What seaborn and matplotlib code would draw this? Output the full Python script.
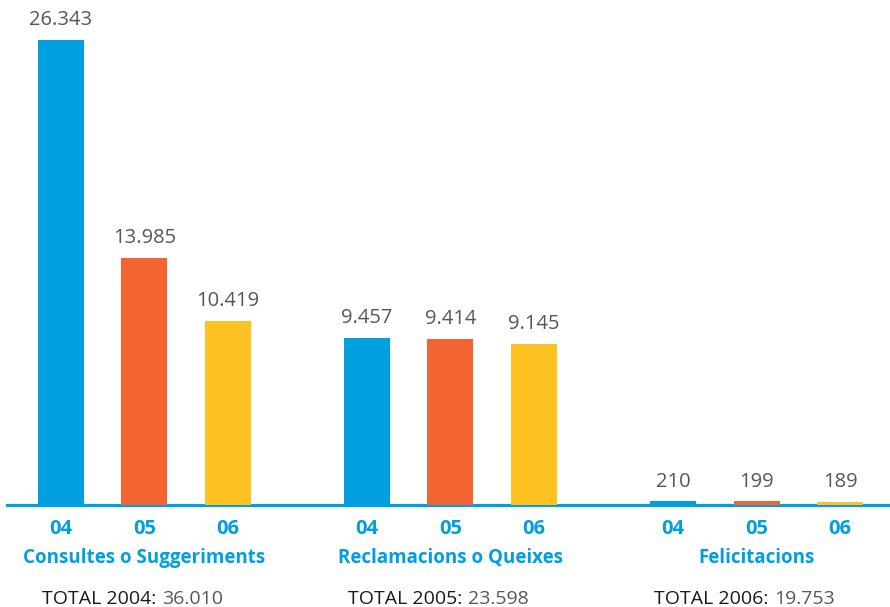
import pandas as pd
import matplotlib.pyplot as plt
import matplotlib.transforms as mtransforms
import seaborn as sns

# data
groups = ['Consultes o Suggeriments', 'Reclamacions o Queixes', 'Felicitacions']
years = ['04', '05', '06']
consultes = [26343, 13985, 10419]
reclamacions = [9457, 9414, 9145]
felicitacions = [210, 199, 189]
total_years = ['2004', '2005', '2006']
totals = [36010, 23598, 19753]

BLUE = '#009fdf'
ORANGE = '#f26533'
YELLOW = '#fec223'
GREY = '#575757'


def fmt(v):
    return f'{v:,}'.replace(',', '.')


rows = []
for g, vals in zip(groups, [consultes, reclamacions, felicitacions]):
    for y, v in zip(years, vals):
        rows.append({'group': g, 'year': y, 'value': v})
df = pd.DataFrame(rows)

sns.set_style('white')
plt.rcParams['font.family'] = ['Open Sans', 'DejaVu Sans']

fig = plt.figure(figsize=(8.9, 6.07), dpi=100)
ax = fig.add_axes([7 / 890, 102 / 607, 883 / 890, 505 / 607])

sns.barplot(data=df, x='group', y='value', hue='year', hue_order=years,
            palette=[BLUE, ORANGE, YELLOW], width=0.82, gap=0.45,
            saturation=1, legend=False, ax=ax, zorder=3, linewidth=0)

ax.set_xlim(-0.449, 2.436)
ax.set_ylim(0, 28609)
ax.set_xticks([])
ax.set_yticks([])
ax.set_xlabel('')
ax.set_ylabel('')
for side in ['top', 'left', 'right']:
    ax.spines[side].set_visible(False)
ax.spines['bottom'].set_color(BLUE)
ax.spines['bottom'].set_linewidth(2.3)
ax.spines['bottom'].set_zorder(2)

# value labels above the bars
for cont in ax.containers:
    ax.bar_label(cont, labels=[fmt(int(b.get_height())) for b in cont],
                 padding=7, fontsize=14.5, color=GREY, clip_on=False)

trans = mtransforms.blended_transform_factory(ax.transData, ax.transAxes)

# year labels under each bar
for i, cont in enumerate(ax.containers):
    for bar in cont:
        x = bar.get_x() + bar.get_width() / 2
        ax.text(x, -0.0574, years[i], transform=trans, ha='center',
                va='baseline', fontsize=14.5, fontweight='bold', color=BLUE)

# group names and totals
for i, g in enumerate(groups):
    ax.text(i, -0.1149, g, transform=trans, ha='center', va='baseline',
            fontsize=13.5, fontweight='bold', color=BLUE)
    t1 = ax.text(i + 0.04, -0.196, f'TOTAL {total_years[i]}:', transform=trans,
                 ha='right', va='baseline', fontsize=14, color='#1a1a1a')
    ax.annotate(fmt(totals[i]), xy=(1, 0), xycoords=t1, xytext=(4, 0),
                textcoords='offset points', ha='left', va='bottom',
                fontsize=14, color=GREY)

fig.savefig('out.png', dpi=100)
